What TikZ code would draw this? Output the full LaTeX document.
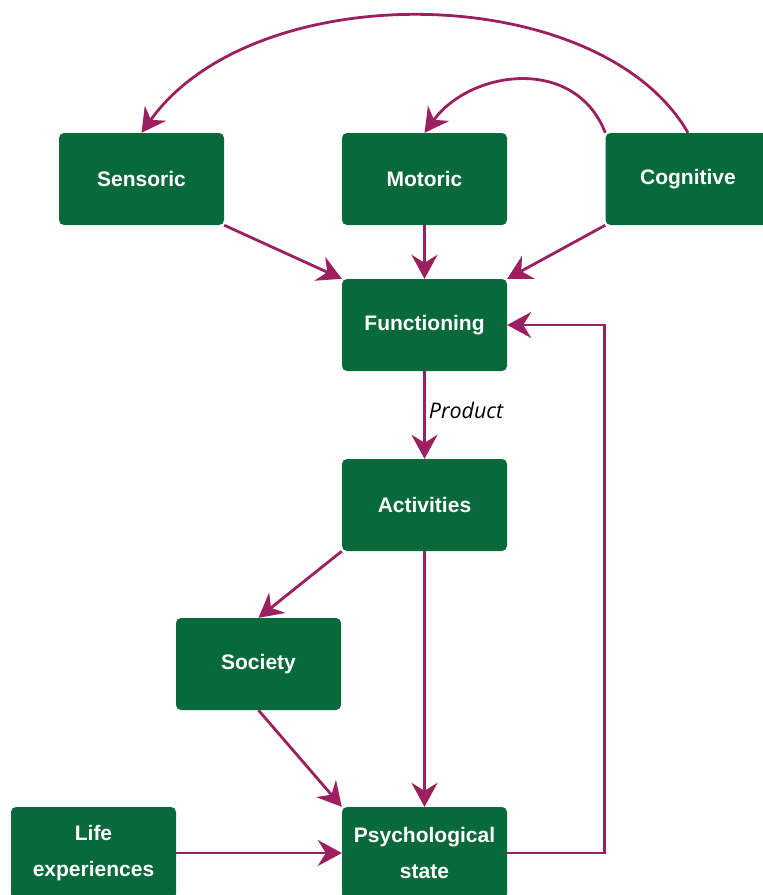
\documentclass[tikz,border=0pt]{standalone}
\usepackage{fontspec}
\setmainfont{Liberation Sans}
\newfontfamily\labelfont{Open Sans}
\usetikzlibrary{arrows.meta}
\definecolor{boxgreen}{HTML}{08693A}
\definecolor{linkred}{HTML}{9C1F5F}
\begin{document}
\begin{tikzpicture}[x=1pt,y=-1pt,
  box/.style={rectangle, rounded corners=5pt, fill=boxgreen, text=white,
    minimum width=165pt, minimum height=92pt, inner sep=0pt, align=center,
    font=\fontsize{21}{36}\selectfont\bfseries},
  link/.style={draw=linkred, line width=2.8pt,
    -{Stealth[length=24pt,width=26pt,inset=8pt]}},
  tag/.style={font=\labelfont\itshape\fontsize{21.5}{24}\selectfont, inner sep=0pt, anchor=west}]
  \useasboundingbox (0,0) rectangle (763,895);
  \clip (0,0) rectangle (763,895);

  % boxes
  \node[box] (sen) at (141.5,179) {Sensoric};
  \node[box] (mot) at (424.5,179) {Motoric};
  \node[box] (cog) at (688,179) {Cognitive};
  \node[box] (fun) at (424.5,325) {Functioning};
  \node[box] (act) at (424.5,505) {Activities};
  \node[box] (soc) at (258.5,664) {Society};
  \node[box] (lif) at (93.5,853) {Life\\experiences};
  \node[box] (psy) at (424.5,853) {Psychological\\state};

  % feedback arcs from Cognitive
  \draw[link] (cog.north) .. controls (600,-20) and (255,-26) .. (sen.north);
  \draw[link] (cog.north west) .. controls (575,55) and (470,70) .. (mot.north);

  % inputs to Functioning
  \draw[link] (sen.south east) -- (fun.north west);
  \draw[link] (mot.south) -- (fun.north);
  \draw[link] (cog.south west) -- (fun.north east);

  % Functioning to Activities
  \draw[link] (fun.south) -- node[tag, pos=0.45, xshift=3pt] {Product} (act.north);

  % Activities and Society to Psychological state
  \draw[link] (act.south west) -- (soc.north);
  \draw[link] (act.south) -- (psy.north);
  \draw[link] (soc.south) -- (psy.north west);
  \draw[link] (lif.east) -- (psy.west);

  % loop back to Functioning
  \draw[link] (psy.east) -- ++(97,0) |- (fun.east);
\end{tikzpicture}
\end{document}
